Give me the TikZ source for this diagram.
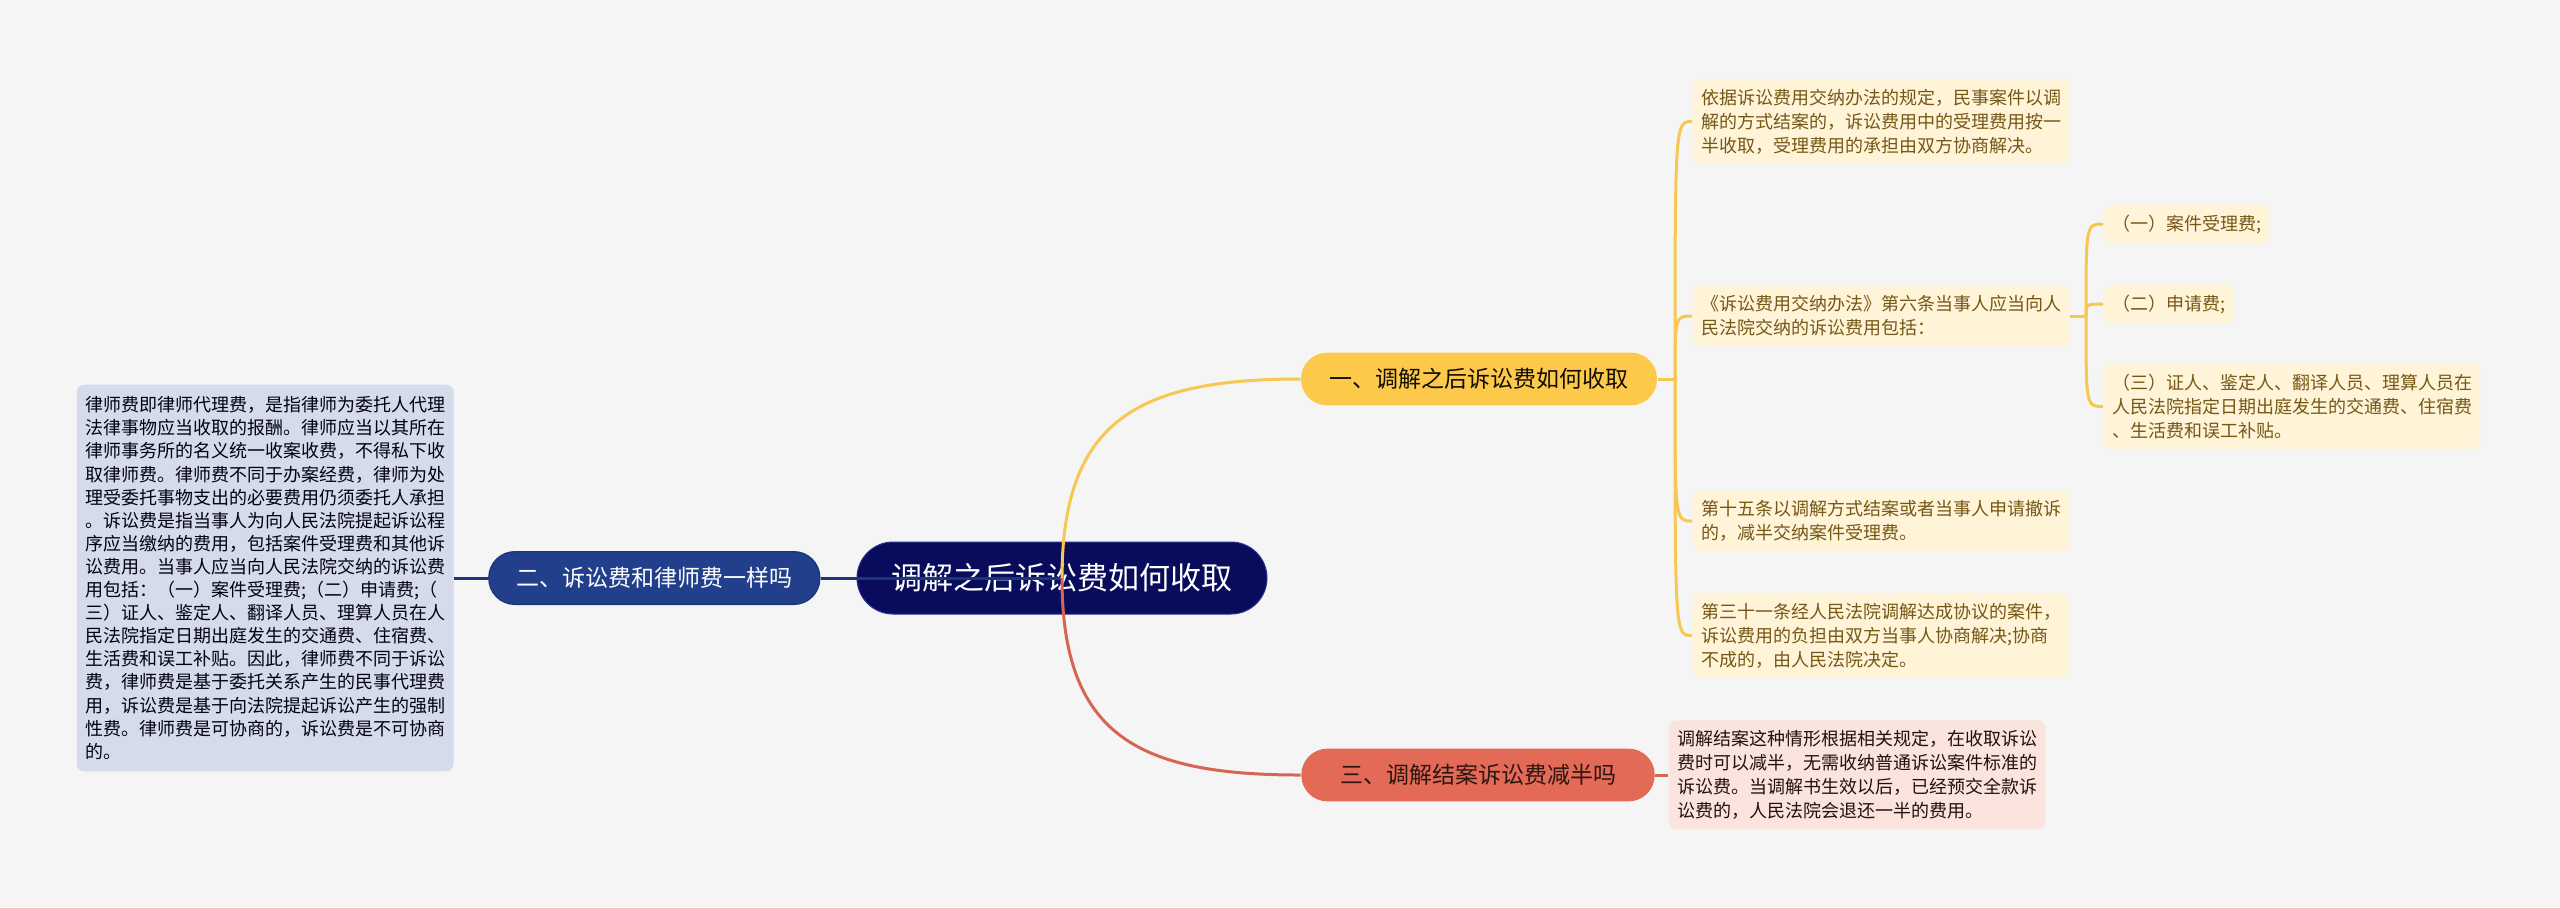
\documentclass[tikz,border=0pt]{standalone}
\usepackage{fontspec}
\setmainfont{Noto Sans CJK SC}
\usetikzlibrary{positioning}
\definecolor{mmbg}{RGB}{245,245,245}
\definecolor{mmroot}{RGB}{9,12,92}
\definecolor{mmrootline}{RGB}{40,52,140}
\definecolor{mmblue}{RGB}{33,63,139}
\definecolor{mmblueline}{RGB}{28,54,124}
\definecolor{mmyellow}{RGB}{252,201,75}
\definecolor{mmyline}{RGB}{248,199,82}
\definecolor{mmred}{RGB}{226,106,86}
\definecolor{mmrline}{RGB}{212,102,82}
\definecolor{mmcream}{RGB}{255,243,216}
\definecolor{mmbrown}{RGB}{118,88,22}
\definecolor{mmpink}{RGB}{252,228,222}
\definecolor{mmgrey}{RGB}{213,219,234}

\begin{document}
\begin{tikzpicture}[x=0.3pt,y=-0.3pt,
    rootbox/.style={fill=mmroot,draw=mmrootline,line width=0.3pt,text=white,rounded corners=10.8pt,
      minimum width=123pt,minimum height=21.6pt,inner sep=0pt,font=\fontsize{9.3}{11}\selectfont},
    topic/.style={rounded corners=7.8pt,minimum height=15.8pt,inner sep=0pt,font=\fontsize{6.9}{8}\selectfont},
    leaf/.style={rounded corners=2.2pt,align=left,inner xsep=2.5pt,inner ysep=3pt,font=\fontsize{5.4}{7.2}\selectfont},
    yleaf/.style={leaf,fill=mmcream,text=mmbrown},
    link/.style={line width=0.9pt}]
  \fill[mmbg] (0,0) rectangle (2560,907);
  % centre and main topics
  \node[rootbox] (root) at (1062,578) {调解之后诉讼费如何收取};
  \node[topic,fill=mmblue,draw=mmblueline,line width=0.4pt,text=white,minimum width=99.3pt,left=10.8pt of root] (fee) {二、诉讼费和律师费一样吗};
  \node[leaf,fill=mmgrey,text=black!85!mmroot,inner ysep=3.6pt,font=\fontsize{5.4}{6.93}\selectfont,left=10.2pt of fee] (lawyer) {律师费即律师代理费，是指律师为委托人代理\\法律事物应当收取的报酬。律师应当以其所在\\律师事务所的名义统一收案收费，不得私下收\\取律师费。律师费不同于办案经费，律师为处\\理受委托事物支出的必要费用仍须委托人承担\\。诉讼费是指当事人为向人民法院提起诉讼程\\序应当缴纳的费用，包括案件受理费和其他诉\\讼费用。当事人应当向人民法院交纳的诉讼费\\用包括：（一）案件受理费;（二）申请费;（\\三）证人、鉴定人、翻译人员、理算人员在人\\民法院指定日期出庭发生的交通费、住宿费、\\生活费和误工补贴。因此，律师费不同于诉讼\\费，律师费是基于委托关系产生的民事代理费\\用，诉讼费是基于向法院提起诉讼产生的强制\\性费。律师费是可协商的，诉讼费是不可协商\\的。};
  \node[topic,fill=mmyellow,text=black!85!mmbrown,minimum width=106.8pt] (how) at (1479,379) {一、调解之后诉讼费如何收取};
  \node[topic,fill=mmred,text=black!80!mmred,minimum width=106pt] (half) at (1478,775) {三、调解结案诉讼费减半吗};
  % leaves of topic one
  \node[yleaf,anchor=west] (rule) at (1692,121.5) {依据诉讼费用交纳办法的规定，民事案件以调\\解的方式结案的，诉讼费用中的受理费用按一\\半收取，受理费用的承担由双方协商解决。};
  \node[yleaf,anchor=west] (art6) at (1692,316) {《诉讼费用交纳办法》第六条当事人应当向人\\民法院交纳的诉讼费用包括：};
  \node[yleaf,anchor=west] (art15) at (1692,521) {第十五条以调解方式结案或者当事人申请撤诉\\的，减半交纳案件受理费。};
  \node[yleaf,anchor=west] (art31) at (1692,635.5) {第三十一条经人民法院调解达成协议的案件，\\诉讼费用的负担由双方当事人协商解决;协商\\不成的，由人民法院决定。};
  \node[yleaf,anchor=west] (item1) at (2103,224) {（一）案件受理费;};
  \node[yleaf,anchor=west] (item2) at (2103,304) {（二）申请费;};
  \node[yleaf,anchor=west] (item3) at (2103,406.5) {（三）证人、鉴定人、翻译人员、理算人员在\\人民法院指定日期出庭发生的交通费、住宿费\\、生活费和误工补贴。};
  % leaf of topic three
  \node[leaf,fill=mmpink,text=black!85!mmred,right=3.9pt of half] (refund) {调解结案这种情形根据相关规定，在收取诉讼\\费时可以减半，无需收纳普通诉讼案件标准的\\诉讼费。当调解书生效以后，已经预交全款诉\\讼费的，人民法院会退还一半的费用。};
  \coordinate (jhow) at (1675,379);
  \coordinate (jart6) at (2086,316);
  % connectors
  \draw[link,mmblueline] (root.center) -- (fee.east);
  \draw[link,mmblueline] (fee.west) -- (lawyer.east);
  \draw[link,mmyline] (root.center) .. controls +(0,-158) and +(-162,0) .. (how.west);
  \draw[link,mmrline] (root.center) .. controls +(0,158) and +(-162,0) .. (half.west);
  \draw[link,mmrline] (half.east) -- (refund.west);
  \draw[link,mmyline] (how.east) -- (jhow);
  \foreach \n in {rule,art6,art15,art31}
    \draw[link,mmyline] (jhow) .. controls (jhow |- \n.west) .. (\n.west);
  \draw[link,mmyline] (art6.east) -- (jart6);
  \foreach \n in {item1,item2,item3}
    \draw[link,mmyline] (jart6) .. controls (jart6 |- \n.west) .. (\n.west);
\end{tikzpicture}
\end{document}
